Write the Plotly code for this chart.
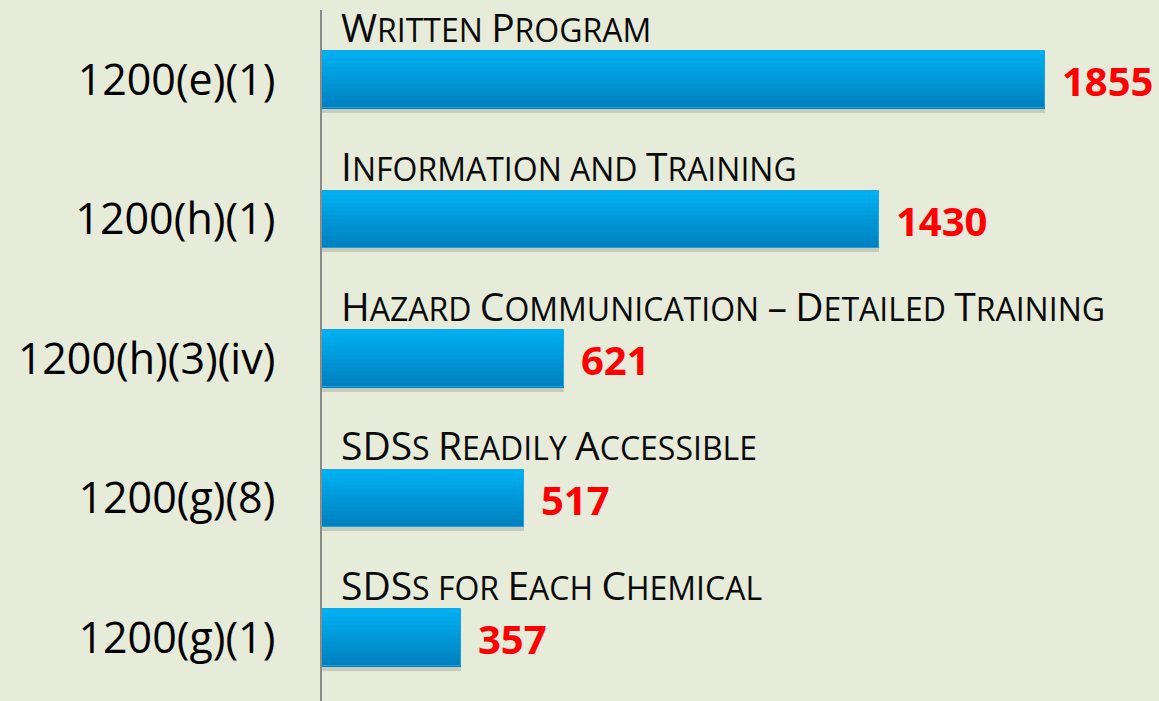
import plotly.graph_objects as go

# ---- data ----
categories = ["1200(e)(1)", "1200(h)(1)", "1200(h)(3)(iv)", "1200(g)(8)", "1200(g)(1)"]
titles = [
    "Written Program",
    "Information and Training",
    "Hazard Communication – Detailed Training",
    "SDSs Readily Accessible",
    "SDSs for Each Chemical",
]
values = [1855, 1430, 621, 517, 357]

# ---- styling ----
BG = "#E6EBDA"
FONT = "Open Sans"
BIG = 39
SMALL = 32
BAR_W = 0.41
N_BANDS = 14
TOP_RGB = (0, 176, 240)
BOT_RGB = (0, 128, 192)

positions = list(range(len(categories)))


def small_caps(text):
    out = []
    buf = ""
    mode = None
    for ch in text:
        m = "small" if (ch.islower() or ch == " ") else "big"
        if m != mode and buf:
            out.append((mode, buf))
            buf = ""
        mode = m
        buf += ch
    if buf:
        out.append((mode, buf))
    html = ""
    for m, s in out:
        if m == "small":
            html += f'<span style="font-size:{SMALL}px">{s.upper()}</span>'
        else:
            html += s
    return html


fig = go.Figure()

# shadow
fig.add_trace(go.Bar(
    y=positions, x=values, orientation="h", width=BAR_W, offset=-BAR_W / 2 + 0.03,
    marker=dict(color="rgba(60,60,40,0.18)", line=dict(width=0)),
    hoverinfo="skip", showlegend=False,
))

# gradient bands
bw = BAR_W / N_BANDS
for i in range(N_BANDS):
    t = i / (N_BANDS - 1)
    r, g, b = (round(TOP_RGB[k] + (BOT_RGB[k] - TOP_RGB[k]) * t) for k in range(3))
    fig.add_trace(go.Bar(
        y=positions, x=values, orientation="h", width=bw * 1.05, offset=-BAR_W / 2 + i * bw,
        marker=dict(color=f"rgb({r},{g},{b})", line=dict(width=0)),
        hoverinfo="skip", showlegend=False,
    ))

# outline
fig.add_trace(go.Bar(
    y=positions, x=values, orientation="h", width=BAR_W, offset=-BAR_W / 2,
    marker=dict(color="rgba(0,0,0,0)", line=dict(width=1, color="#1AA3DC")),
    hoverinfo="skip", showlegend=False,
))

annotations = []
for p, v, t in zip(positions, values, titles):
    annotations.append(dict(
        x=0, y=p, xref="x", yref="y", text=small_caps(t), showarrow=False,
        xanchor="left", yanchor="bottom", xshift=17, yshift=25,
        font=dict(family=FONT, size=BIG, color="#0A0A0A"),
    ))
    annotations.append(dict(
        x=v, y=p, xref="x", yref="y", text=f"<b>{v}</b>", showarrow=False,
        xanchor="left", yanchor="middle", xshift=15, yshift=-1,
        font=dict(family=FONT, size=40, color="#FF0000"),
    ))

fig.update_layout(
    width=1159, height=701,
    margin=dict(l=322, r=0, t=10, b=0),
    paper_bgcolor=BG, plot_bgcolor=BG,
    barmode="overlay", bargap=0,
    annotations=annotations,
    xaxis=dict(range=[0, 2147], visible=False, fixedrange=True),
    yaxis=dict(
        range=[4.4534, -0.5], tickvals=positions, ticktext=categories,
        showgrid=False, zeroline=False, showline=True, linecolor="#8A8A8A", linewidth=2,
        ticks="", ticklabelstandoff=36, fixedrange=True,
        tickfont=dict(family=FONT, size=43, color="#000000"),
    ),
    showlegend=False,
)

fig.write_html(
    "out.html",
    config={"displayModeBar": False},
    post_script="document.body.style.margin='0';document.body.style.padding='0';"
                "document.body.style.background='" + BG + "';"
                "document.body.style.overflow='hidden';",
)
